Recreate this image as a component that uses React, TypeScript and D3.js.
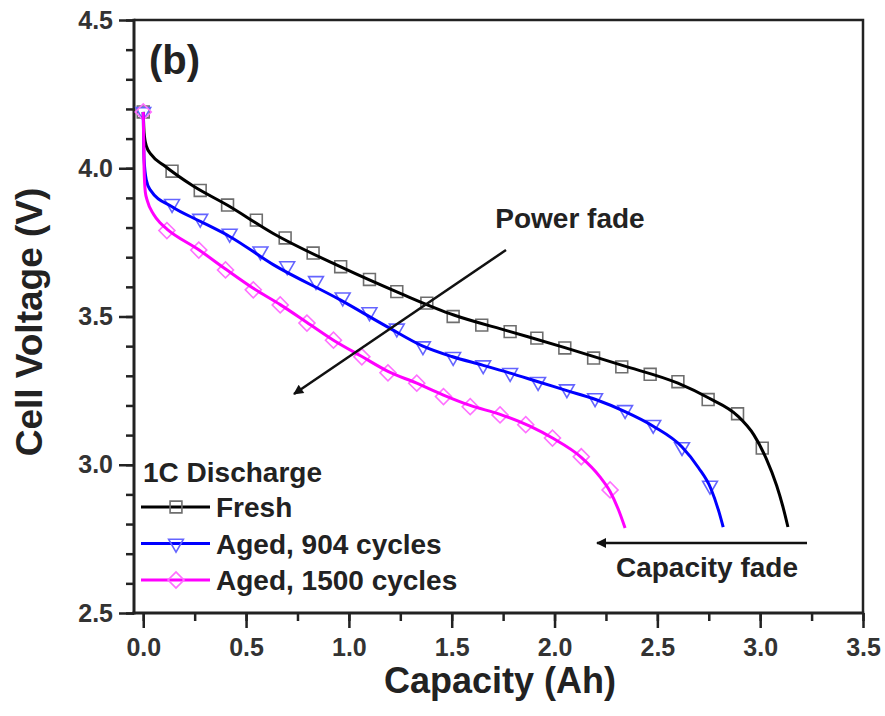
import React, { useRef, useEffect } from "react";
import * as d3 from "d3";

// capacity (Ah), voltage (V)
const freshLine: [number, number][] = [
  [0, 4.19], [0.004, 4.12], [0.015, 4.075], [0.04, 4.045], [0.1, 4.01],
  [0.243, 3.94], [0.41, 3.875], [0.632, 3.78], [0.958, 3.668], [1.25, 3.578],
  [1.51, 3.505], [1.78, 3.45], [2.05, 3.395], [2.33, 3.335], [2.6, 3.275],
  [2.75, 3.225], [2.89, 3.165], [2.97, 3.1], [3.03, 3.02], [3.08, 2.93],
  [3.11, 2.86], [3.135, 2.79],
];
const freshMarks: [number, number][] = [
  [0, 4.19], [0.14, 3.99], [0.277, 3.925], [0.41, 3.876], [0.55, 3.825],
  [0.69, 3.765], [0.826, 3.714], [0.96, 3.668], [1.1, 3.625], [1.233, 3.584],
  [1.379, 3.545], [1.507, 3.5], [1.646, 3.471], [1.784, 3.449], [1.914, 3.427],
  [2.05, 3.394], [2.19, 3.36], [2.327, 3.33], [2.465, 3.305], [2.6, 3.28],
  [2.747, 3.22], [2.89, 3.172], [3.01, 3.056],
];
const aged904Line: [number, number][] = [
  [0, 4.19], [0.004, 4.03], [0.015, 3.96], [0.034, 3.927], [0.14, 3.87],
  [0.28, 3.82], [0.42, 3.77], [0.632, 3.675], [0.958, 3.556], [1.185, 3.466],
  [1.36, 3.4], [1.5, 3.365], [1.65, 3.336], [1.78, 3.31], [1.92, 3.28],
  [2.06, 3.25], [2.2, 3.22], [2.34, 3.18], [2.48, 3.13], [2.62, 3.06],
  [2.7, 2.99], [2.76, 2.92], [2.8, 2.84], [2.82, 2.79],
];
const aged904Marks: [number, number][] = [
  [0, 4.19], [0.14, 3.88], [0.277, 3.83], [0.42, 3.78], [0.57, 3.72],
  [0.7, 3.67], [0.84, 3.62], [0.97, 3.565], [1.1, 3.515], [1.233, 3.46],
  [1.36, 3.4], [1.507, 3.364], [1.653, 3.336], [1.784, 3.31], [1.92, 3.28],
  [2.06, 3.255], [2.197, 3.225], [2.343, 3.185], [2.48, 3.135], [2.62, 3.06],
  [2.756, 2.93],
];
const aged1500Line: [number, number][] = [
  [0, 4.19], [0.004, 4.0], [0.01, 3.92], [0.02, 3.89], [0.05, 3.845],
  [0.083, 3.815], [0.115, 3.795], [0.27, 3.725], [0.4, 3.66], [0.535, 3.595],
  [0.666, 3.54], [0.796, 3.48], [0.925, 3.42], [1.063, 3.365], [1.19, 3.315],
  [1.33, 3.275], [1.46, 3.235], [1.59, 3.2], [1.735, 3.17], [1.88, 3.13],
  [1.99, 3.09], [2.13, 3.025], [2.22, 2.96], [2.27, 2.91], [2.31, 2.85],
  [2.343, 2.787],
];
const aged1500Marks: [number, number][] = [
  [0, 4.19], [0.115, 3.79], [0.27, 3.724], [0.4, 3.657], [0.535, 3.59],
  [0.666, 3.539], [0.796, 3.478], [0.925, 3.42], [1.063, 3.364], [1.19, 3.31],
  [1.33, 3.275], [1.46, 3.23], [1.59, 3.196], [1.735, 3.168], [1.86, 3.135],
  [1.99, 3.09], [2.13, 3.027], [2.27, 2.915],
];

const xTicks = [0, 0.5, 1, 1.5, 2, 2.5, 3, 3.5];
const yTicks = [2.5, 3.0, 3.5, 4.0, 4.5];
const legendTitle = "1C Discharge";
const seriesNames = ["Fresh", "Aged, 904 cycles", "Aged, 1500 cycles"];

const FONT = "'Liberation Sans', Arial, sans-serif";

const App = () => {
  const svgRef = useRef<SVGSVGElement>(null);

  useEffect(() => {
    const width = 885;
    const height = 716;
    const margin = { top: 20, right: 22, bottom: 103, left: 134 };

    const svg = d3.select(svgRef.current).attr("width", width).attr("height", height);
    svg.selectAll("*").remove();

    const x = d3.scaleLinear().domain([-0.045, 3.5]).range([margin.left, width - margin.right]);
    const y = d3.scaleLinear().domain([2.5, 4.5]).range([height - margin.bottom, margin.top]);

    const defs = svg.append("defs");
    defs
      .append("marker")
      .attr("id", "arr")
      .attr("viewBox", "0 0 10 10")
      .attr("refX", 9)
      .attr("refY", 5)
      .attr("markerWidth", 5)
      .attr("markerHeight", 4)
      .attr("markerUnits", "strokeWidth")
      .attr("orient", "auto")
      .append("path")
      .attr("d", "M0,0 L10,5 L0,10 Z")
      .attr("fill", "#111");

    svg.append("rect").attr("width", width).attr("height", height).attr("fill", "#fff");

    // frame (top + right)
    svg
      .append("path")
      .attr("d", `M${x(-0.045)},${y(4.5)}H${x(3.5)}V${y(2.5)}`)
      .attr("fill", "none")
      .attr("stroke", "#222")
      .attr("stroke-width", 2.5);

    const styleLabels = (sel: any) =>
      sel
        .attr("font-family", FONT)
        .attr("font-weight", "bold")
        .attr("font-size", 25)
        .attr("fill", "#333");

    // x axis
    const xAxis = svg.append("g").attr("transform", `translate(0,${y(2.5)})`);
    xAxis
      .call(d3.axisBottom(x).tickValues(d3.range(0, 3.51, 0.25)).tickSize(8).tickFormat(() => ""))
      .call((g) => g.select(".domain").remove());
    xAxis
      .append("g")
      .call(d3.axisBottom(x).tickValues(xTicks).tickSize(15).tickPadding(10).tickFormat(d3.format(".1f")))
      .call((g) => g.select(".domain").remove())
      .selectAll("text")
      .call(styleLabels);
    xAxis.selectAll("line").attr("stroke", "#222").attr("stroke-width", 2.5);
    xAxis
      .append("line")
      .attr("x1", x(-0.045) - 1.5)
      .attr("x2", x(3.5) + 1.2)
      .attr("stroke", "#222")
      .attr("stroke-width", 3);

    // y axis
    const yAxis = svg.append("g").attr("transform", `translate(${x(-0.045)},0)`);
    yAxis
      .call(d3.axisLeft(y).tickValues(d3.range(2.5, 4.51, 0.1)).tickSize(8).tickFormat(() => ""))
      .call((g) => g.select(".domain").remove());
    yAxis
      .append("g")
      .call(d3.axisLeft(y).tickValues(yTicks).tickSize(15).tickPadding(6).tickFormat(d3.format(".1f")))
      .call((g) => g.select(".domain").remove())
      .selectAll("text")
      .call(styleLabels);
    yAxis.selectAll("line").attr("stroke", "#222").attr("stroke-width", 2.5);
    yAxis
      .append("line")
      .attr("y1", y(4.5) - 1.2)
      .attr("y2", y(2.5) + 1.5)
      .attr("stroke", "#222")
      .attr("stroke-width", 3);

    // axis titles
    svg
      .append("text")
      .attr("x", 500)
      .attr("y", 693)
      .attr("text-anchor", "middle")
      .attr("font-family", FONT)
      .attr("font-weight", "bold")
      .attr("font-size", 36)
      .attr("fill", "#222")
      .text("Capacity (Ah)");
    svg
      .append("text")
      .attr("transform", `translate(42,322) rotate(-90)`)
      .attr("text-anchor", "middle")
      .attr("font-family", FONT)
      .attr("font-weight", "bold")
      .attr("font-size", 37)
      .attr("fill", "#222")
      .text("Cell Voltage (V)");

    const line = d3
      .line<[number, number]>()
      .x((d) => x(d[0]))
      .y((d) => y(d[1]))
      .curve(d3.curveMonotoneX);

    const series = [
      { name: seriesNames[0], line: freshLine, marks: freshMarks, color: "#000000", markColor: "#6e6e6e",
        sym: d3.symbol(d3.symbolSquare, 140), rot: 0 },
      { name: seriesNames[1], line: aged904Line, marks: aged904Marks, color: "#0000ff", markColor: "#6464ff",
        sym: d3.symbol(d3.symbolTriangle, 95), rot: 180 },
      { name: seriesNames[2], line: aged1500Line, marks: aged1500Marks, color: "#ff00ff", markColor: "#ff70ff",
        sym: d3.symbol(d3.symbolSquare, 128), rot: 45 },
    ];

    const plot = svg.append("g");
    series.forEach((s) => {
      plot
        .append("g")
        .selectAll("path")
        .data(s.marks)
        .join("path")
        .attr("d", s.sym as any)
        .attr("transform", (d) => `translate(${x(d[0])},${y(d[1])}) rotate(${s.rot})`)
        .attr("fill", "none")
        .attr("stroke", s.markColor)
        .attr("stroke-width", 1.6);
    });
    series.forEach((s) => {
      plot
        .append("path")
        .datum(s.line)
        .attr("d", line)
        .attr("fill", "none")
        .attr("stroke", s.color)
        .attr("stroke-width", 3);
    });

    // legend
    const leg = svg.append("g").attr("font-family", FONT).attr("font-weight", "bold").attr("fill", "#222");
    leg
      .append("text")
      .attr("x", 143)
      .attr("y", 482)
      .attr("font-size", 28)
      .text(legendTitle);
    series.forEach((s, i) => {
      const cy = 507 + i * 36.5;
      leg
        .append("line")
        .attr("x1", 141)
        .attr("x2", 210)
        .attr("y1", cy)
        .attr("y2", cy)
        .attr("stroke", s.color)
        .attr("stroke-width", 3);
      leg
        .append("path")
        .attr("d", s.sym as any)
        .attr("transform", `translate(176,${cy}) rotate(${s.rot})`)
        .attr("fill", "none")
        .attr("stroke", s.markColor)
        .attr("stroke-width", 1.6);
      leg
        .append("text")
        .attr("x", 216)
        .attr("y", cy + 10)
        .attr("font-size", 28)
        .text(s.name);
    });

    // annotations
    svg
      .append("text")
      .attr("x", 149)
      .attr("y", 74)
      .attr("font-family", FONT)
      .attr("font-weight", "bold")
      .attr("font-size", 40)
      .attr("fill", "#222")
      .text("(b)");
    svg
      .append("text")
      .attr("x", 570)
      .attr("y", 228)
      .attr("text-anchor", "middle")
      .attr("font-family", FONT)
      .attr("font-weight", "bold")
      .attr("font-size", 28)
      .attr("fill", "#222")
      .text("Power fade");
    svg
      .append("line")
      .attr("x1", 506)
      .attr("y1", 250)
      .attr("x2", 294)
      .attr("y2", 394)
      .attr("stroke", "#111")
      .attr("stroke-width", 2.5)
      .attr("marker-end", "url(#arr)");
    svg
      .append("line")
      .attr("x1", 807)
      .attr("y1", 543)
      .attr("x2", 597)
      .attr("y2", 543)
      .attr("stroke", "#111")
      .attr("stroke-width", 2.5)
      .attr("marker-end", "url(#arr)");
    svg
      .append("text")
      .attr("x", 707)
      .attr("y", 577)
      .attr("text-anchor", "middle")
      .attr("font-family", FONT)
      .attr("font-weight", "bold")
      .attr("font-size", 28)
      .attr("fill", "#222")
      .text("Capacity fade");
  }, []);

  return (
    <div>
      <style>{`body{margin:0}`}</style>
      <svg ref={svgRef}></svg>
    </div>
  );
};

export default App;
